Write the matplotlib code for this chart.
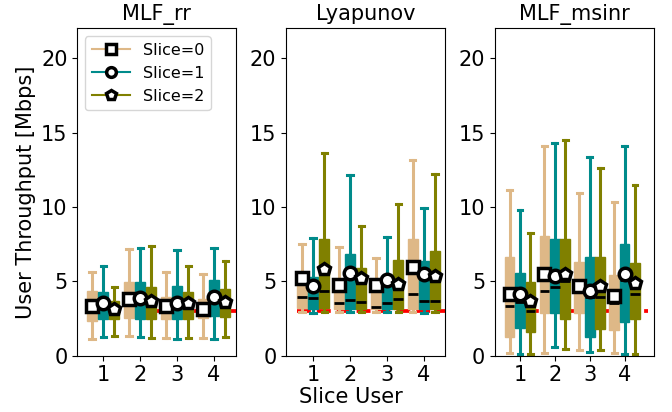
"""Boxplots of user throughput per slice user for three schedulers."""

import matplotlib
matplotlib.use("Agg")
import matplotlib.pyplot as plt
from matplotlib.lines import Line2D

TITLES = ["MLF_rr", "Lyapunov", "MLF_msinr"]
USERS = [1, 2, 3, 4]
SLICES = ["Slice=0", "Slice=1", "Slice=2"]
COLORS = ["#DEB887", "#008B8B", "#808000"]
MARKERS = ["s", "o", "p"]
SLA = 3.0

# per scheduler -> per slice -> per user: (whislo, q1, med, q3, whishi, mean)
MLF_RR = [
    [(1.12, 2.33, 3.2, 4.34, 5.63, 3.33), (1.32, 2.50, 3.7, 4.96, 7.15, 3.78),
     (1.16, 2.46, 3.2, 3.91, 5.63, 3.33), (1.16, 2.55, 3.0, 3.78, 5.48, 3.10)],
    [(1.27, 2.46, 3.4, 4.25, 6.01, 3.51), (1.27, 2.46, 3.7, 4.96, 7.20, 3.85),
     (1.12, 2.46, 3.4, 4.67, 7.13, 3.55), (1.12, 2.68, 3.8, 5.07, 7.20, 3.91)],
    [(1.32, 2.46, 3.0, 3.67, 4.63, 3.10), (1.21, 2.46, 3.6, 4.58, 7.35, 3.67),
     (1.21, 2.46, 3.5, 4.29, 6.01, 3.55), (1.23, 2.61, 3.5, 4.47, 6.35, 3.62)],
]
LYAPUNOV = [
    [(2.90, 3.17, 3.96, 5.30, 7.49, 5.19), (2.90, 3.12, 3.51, 5.07, 7.31, 4.74),
     (2.90, 3.12, 3.29, 4.96, 6.53, 4.74), (2.90, 3.14, 4.14, 7.82, 13.12, 5.97)],
    [(2.88, 3.12, 3.85, 5.25, 7.93, 4.67), (2.90, 3.12, 3.73, 6.86, 12.11, 5.52),
     (2.90, 3.12, 3.55, 4.96, 7.98, 5.07), (2.88, 3.12, 3.69, 6.37, 9.92, 5.48)],
    [(2.90, 3.17, 4.34, 7.82, 13.63, 5.79), (2.90, 3.12, 3.62, 5.86, 8.71, 5.23),
     (2.90, 3.12, 3.80, 6.41, 10.21, 4.81), (2.90, 3.12, 3.69, 7.04, 12.22, 5.34)],
]
MLF_MSINR = [
    [(0.16, 1.27, 3.35, 6.64, 11.11, 4.11), (0.16, 2.84, 4.36, 8.02, 14.06, 5.48),
     (0.38, 2.84, 4.34, 6.30, 10.95, 4.69), (0.16, 1.72, 3.51, 5.41, 10.32, 4.00)],
    [(0.09, 1.84, 3.62, 5.52, 9.77, 4.13), (0.56, 2.84, 4.58, 7.87, 14.28, 5.36),
     (0.27, 1.23, 3.96, 6.64, 13.34, 4.36), (0.09, 2.28, 5.10, 7.53, 14.12, 5.48)],
    [(0.09, 1.61, 3.02, 4.92, 8.27, 3.67), (0.45, 2.46, 5.03, 7.87, 14.50, 5.48),
     (0.38, 1.77, 3.96, 6.64, 12.63, 4.67), (0.09, 2.46, 4.13, 6.23, 11.44, 4.85)],
]
DATA = [MLF_RR, LYAPUNOV, MLF_MSINR]
XLIMS = [(0.30, 4.60), (0.27, 4.57), (0.28, 4.84)]

plt.rcParams["font.size"] = 15

fig, axes = plt.subplots(1, 3, figsize=(6.72, 4.12), dpi=100)
fig.subplots_adjust(left=0.115, right=0.973, top=0.931, bottom=0.137, wspace=0.314)

offsets = [-0.3, 0.0, 0.3]
for ax, title, sched, xl in zip(axes, TITLES, DATA, XLIMS):
    # SLA threshold, behind the boxes
    ax.plot([0.56, 4.67], [SLA, SLA], color="red", ls="--", lw=2.7, zorder=0)
    for s, (col, mk) in enumerate(zip(COLORS, MARKERS)):
        stats = []
        for lo, q1, med, q3, hi, mean in sched[s]:
            stats.append(dict(whislo=lo, q1=q1, med=med, q3=q3, whishi=hi,
                              mean=mean, fliers=[]))
        pos = [u + offsets[s] for u in USERS]
        ax.bxp(stats, positions=pos, widths=0.28, patch_artist=True,
               showmeans=True, showfliers=False, manage_ticks=False,
               boxprops=dict(facecolor=col, edgecolor=col, lw=1),
               whiskerprops=dict(color=col, lw=2.2),
               capprops=dict(color=col, lw=2.2),
               medianprops=dict(color="black", lw=2),
               meanprops=dict(marker=mk, markerfacecolor="white",
                              markeredgecolor="black", markersize=9,
                              markeredgewidth=2.5))
    ax.set_title(title, fontsize=15)
    ax.set_xticks(USERS)
    ax.set_xlim(*xl)
    ax.set_ylim(0, 22)
    ax.set_yticks([0, 5, 10, 15, 20])

handles = [Line2D([], [], color=c, marker=m, markerfacecolor="white",
                  markeredgecolor="black", markersize=7, markeredgewidth=2.5,
                  lw=1.5)
           for c, m in zip(COLORS, MARKERS)]
axes[0].legend(handles, SLICES, loc="upper left", fontsize=11.5,
               handlelength=2.4)

axes[0].set_ylabel("User Throughput [Mbps]")
fig.text(351 / 672, 0.012, "Slice User", ha="center", va="bottom", fontsize=15)

fig.savefig("out.png")
